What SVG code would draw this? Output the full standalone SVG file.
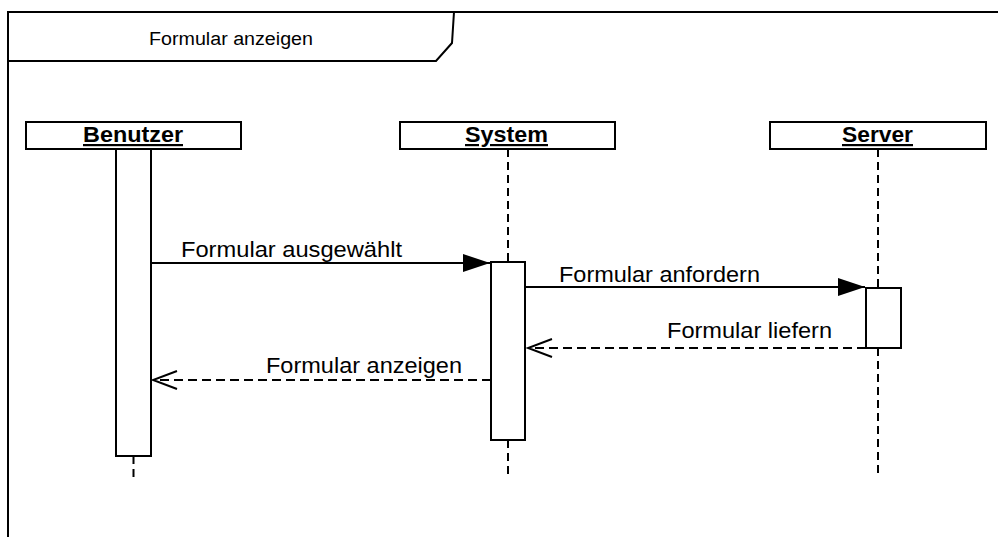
<svg xmlns="http://www.w3.org/2000/svg" width="998" height="537" viewBox="0 0 998 537">
  <style>
    .ln { stroke: #000; stroke-width: 2; fill: none; }
    .box { stroke: #000; stroke-width: 2; fill: #fff; }
    .life { stroke: #000; stroke-width: 2; stroke-dasharray: 8 5; fill: none; }
    .ret { stroke: #000; stroke-width: 2; stroke-dasharray: 9 5; fill: none; }
    .lbl { font-family: "Liberation Sans", Arial, sans-serif; font-size: 22px; fill: #000; }
    .head { font-family: "Liberation Sans", Arial, sans-serif; font-size: 22px; font-weight: bold; fill: #000; text-decoration: underline; }
    .title { font-family: "Liberation Sans", Arial, sans-serif; font-size: 18px; fill: #000; }
  </style>
  <defs>
    <marker id="sync" markerUnits="userSpaceOnUse" markerWidth="28" markerHeight="20" refX="27" refY="10" orient="auto">
      <path d="M0,1 L27,10 L0,19 Z" fill="#000"/>
    </marker>
    <marker id="open" markerUnits="userSpaceOnUse" markerWidth="28" markerHeight="22" refX="26" refY="11" orient="auto">
      <path d="M2,2 L26,11 L2,20" fill="none" stroke="#000" stroke-width="2"/>
    </marker>
  </defs>
  <rect width="998" height="537" fill="#fff"/>

  <!-- interaction frame -->
  <g id="frame">
    <path class="ln" d="M8,537 L8,12 L998,12"/>
    <path class="ln" d="M8,61 L436,61 L452,43 L454,12"/>
    <text class="title" x="231" y="45" text-anchor="middle" textLength="164" lengthAdjust="spacingAndGlyphs">Formular anzeigen</text>
  </g>

  <!-- lifeline: Benutzer -->
  <g id="benutzer">
    <rect class="box" x="26" y="122" width="215" height="27"/>
    <text class="head" x="133" y="142" text-anchor="middle" textLength="100" lengthAdjust="spacingAndGlyphs">Benutzer</text>
    <path class="life" d="M133.5,456 L133.5,477"/>
    <rect class="box" x="116" y="149" width="35" height="307"/>
  </g>

  <!-- lifeline: System -->
  <g id="system">
    <rect class="box" x="400" y="122" width="215" height="27"/>
    <text class="head" x="506.5" y="142" text-anchor="middle" textLength="83" lengthAdjust="spacingAndGlyphs">System</text>
    <path class="life" d="M508,149 L508,262 M508,440 L508,477"/>
    <rect class="box" x="491" y="262" width="34" height="178"/>
  </g>

  <!-- lifeline: Server -->
  <g id="server">
    <rect class="box" x="770" y="122" width="216" height="27"/>
    <text class="head" x="877.5" y="142" text-anchor="middle" textLength="71" lengthAdjust="spacingAndGlyphs">Server</text>
    <path class="life" d="M878,149 L878,288 M878,348 L878,477"/>
    <rect class="box" x="866" y="288" width="35" height="60"/>
  </g>

  <!-- messages -->
  <g id="connectors">
    <path class="ln" d="M151,263 L490,263" marker-end="url(#sync)"/>
    <text class="lbl" x="181" y="257" textLength="221" lengthAdjust="spacingAndGlyphs">Formular ausgewählt</text>

    <path class="ln" d="M525,287 L865,287" marker-end="url(#sync)"/>
    <text class="lbl" x="559" y="282" textLength="201" lengthAdjust="spacingAndGlyphs">Formular anfordern</text>

    <path class="ret" d="M866,348 L528,348" marker-end="url(#open)"/>
    <text class="lbl" x="667" y="338" textLength="165" lengthAdjust="spacingAndGlyphs">Formular liefern</text>

    <path class="ret" d="M491,380 L153,380" marker-end="url(#open)"/>
    <text class="lbl" x="266" y="373" textLength="196" lengthAdjust="spacingAndGlyphs">Formular anzeigen</text>
  </g>
</svg>
